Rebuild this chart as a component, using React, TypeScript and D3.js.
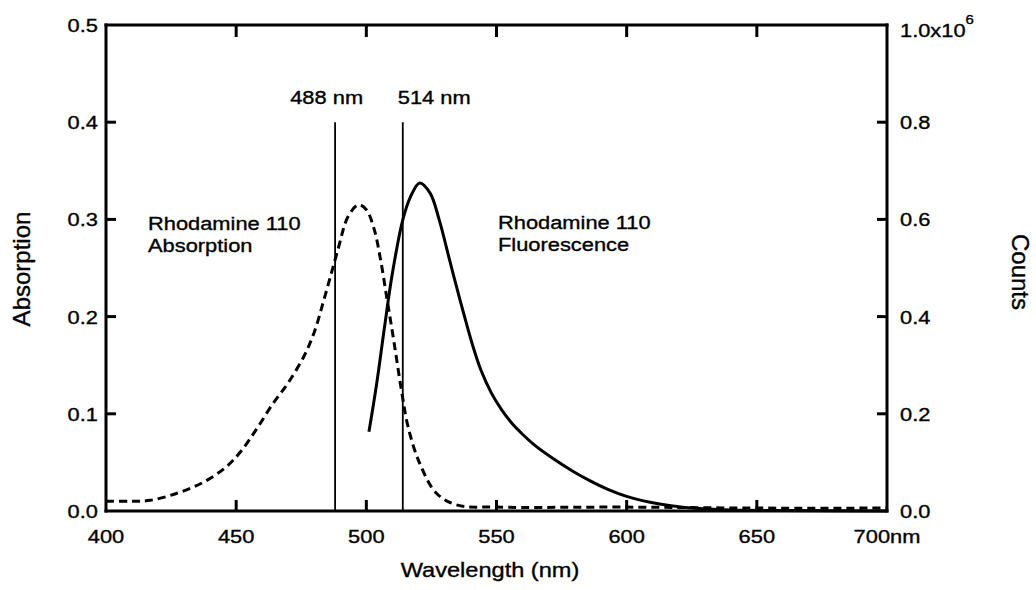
import React from "react";
import * as d3 from "d3";

const absorption: [number, number][] = [
  [400, 0.010], [410, 0.010], [417, 0.011], [427, 0.018], [437, 0.029], [446, 0.045],
  [452, 0.062], [458, 0.085], [464, 0.110], [470, 0.132], [476, 0.159], [480, 0.184],
  [484, 0.220], [489, 0.268], [493, 0.303], [497, 0.315], [500, 0.310], [503, 0.290],
  [505.5, 0.258], [508, 0.217], [510.5, 0.176], [513.5, 0.124], [516, 0.087], [520.5, 0.049],
  [527, 0.018], [535, 0.006], [550, 0.004], [600, 0.004], [650, 0.003], [700, 0.003],
];

const fluorescence: [number, number][] = [
  [501, 0.163], [504, 0.263], [507, 0.379], [510, 0.489], [514, 0.599], [517, 0.647],
  [520.5, 0.675], [524.5, 0.654], [528, 0.599], [532, 0.516], [536, 0.434], [541, 0.338],
  [544, 0.290], [548, 0.243], [552, 0.208], [556, 0.180], [560, 0.158], [565, 0.134],
  [572, 0.107], [579, 0.083], [586, 0.062], [593, 0.044], [600, 0.030], [609, 0.018],
  [617, 0.011], [628, 0.005], [640, 0.002], [660, 0.001], [700, 0.0],
];

const laserLines = [488, 514];
const xTicks = [400, 450, 500, 550, 600, 650, 700];
const xTickLabels = ["400", "450", "500", "550", "600", "650", "700nm"];
const leftTicks = [0.0, 0.1, 0.2, 0.3, 0.4, 0.5];
const leftTickLabels = ["0.0", "0.1", "0.2", "0.3", "0.4", "0.5"];
const rightTicks = [0.0, 0.2, 0.4, 0.6, 0.8];
const rightTickLabels = ["0.0", "0.2", "0.4", "0.6", "0.8"];

const FONT = "'Liberation Sans', Arial, Helvetica, sans-serif";
const SX = 1.15;

function SText(props: { x: number; y: number; anchor?: string; size: number; children: React.ReactNode }) {
  const { x, y, anchor = "start", size, children } = props;
  return (
    <text
      transform={`translate(${x},${y}) scale(${SX},1)`}
      textAnchor={anchor}
      fontSize={size}
      fontFamily={FONT}
      fill="#000"
      stroke="#000"
      strokeWidth={0.35}
    >
      {children}
    </text>
  );
}

export default function App() {
  const x = d3.scaleLinear().domain([400, 700]).range([106, 887]);
  const yL = d3.scaleLinear().domain([0, 0.5]).range([511, 25]);
  const yR = d3.scaleLinear().domain([0, 1.0]).range([511, 25]);

  const absLine = d3
    .line<[number, number]>()
    .x((d) => x(d[0]))
    .y((d) => yL(d[1]))
    .curve(d3.curveCatmullRom.alpha(0.5));
  const fluLine = d3
    .line<[number, number]>()
    .x((d) => x(d[0]))
    .y((d) => yR(d[1]))
    .curve(d3.curveCatmullRom.alpha(0.5));

  const x0 = x(400), x1 = x(700), y0 = yL(0), y1 = yL(0.5);

  return (
    <svg
      width={1036}
      height={590}
      style={{ position: "absolute", left: 0, top: 0, background: "#fff" }}
    >
      <rect x={0} y={0} width={1036} height={590} fill="#fff" />
      {laserLines.map((w) => (
        <line key={w} x1={x(w)} x2={x(w)} y1={yL(0)} y2={yL(0.4)} stroke="#000" strokeWidth={1.8} />
      ))}
      <path d={absLine(absorption) || ""} fill="none" stroke="#000" strokeWidth={3} strokeDasharray="8,5" />
      <path d={fluLine(fluorescence) || ""} fill="none" stroke="#000" strokeWidth={3} />

      <g stroke="#000" strokeWidth={3} strokeLinecap="square">
        <line x1={x0} x2={x1} y1={y0} y2={y0} />
        <line x1={x0} x2={x1} y1={y1} y2={y1} />
        <line x1={x0} x2={x0} y1={y0} y2={y1} />
        <line x1={x1} x2={x1} y1={y0} y2={y1} />
      </g>
      <g stroke="#000" strokeWidth={3}>
        {xTicks.slice(1, -1).map((t) => (
          <g key={t}>
            <line x1={x(t)} x2={x(t)} y1={y0} y2={y0 - 11} />
            <line x1={x(t)} x2={x(t)} y1={y1} y2={y1 + 12} />
          </g>
        ))}
        {leftTicks.slice(1, -1).map((t) => (
          <line key={t} x1={x0} x2={x0 + 10} y1={yL(t)} y2={yL(t)} />
        ))}
        {rightTicks.slice(1).map((t) => (
          <line key={t} x1={x1} x2={x1 - 10} y1={yR(t)} y2={yR(t)} />
        ))}
      </g>

      {xTicks.map((t, i) => (
        <SText key={t} x={x(t)} y={543} anchor="middle" size={19}>
          {xTickLabels[i]}
        </SText>
      ))}
      {leftTicks.map((t, i) => (
        <SText key={t} x={98} y={yL(t) + 7} anchor="end" size={19}>
          {leftTickLabels[i]}
        </SText>
      ))}
      {rightTicks.map((t, i) => (
        <SText key={t} x={900} y={yR(t) + 7} size={19}>
          {rightTickLabels[i]}
        </SText>
      ))}
      <SText x={900} y={yR(1.0) + 12} size={19}>
        1.0x10
        <tspan dy={-13} fontSize={13}>6</tspan>
      </SText>

      <SText x={x(488) + 28} y={104} anchor="end" size={19}>488 nm</SText>
      <SText x={x(514) - 5} y={104} size={19}>514 nm</SText>
      <SText x={148} y={230} size={19}>Rhodamine 110</SText>
      <SText x={148} y={252} size={19}>Absorption</SText>
      <SText x={498} y={229} size={19}>Rhodamine 110</SText>
      <SText x={498} y={251} size={19}>Fluorescence</SText>

      <SText x={490} y={577} anchor="middle" size={20.5}>Wavelength (nm)</SText>
      <text
        transform="translate(30,269) rotate(-90)"
        textAnchor="middle"
        fontSize={24}
        fontFamily={FONT}
        stroke="#000"
        strokeWidth={0.35}
      >
        Absorption
      </text>
      <text
        transform="translate(1012,272) rotate(90)"
        textAnchor="middle"
        fontSize={24}
        fontFamily={FONT}
        stroke="#000"
        strokeWidth={0.35}
      >
        Counts
      </text>
    </svg>
  );
}
